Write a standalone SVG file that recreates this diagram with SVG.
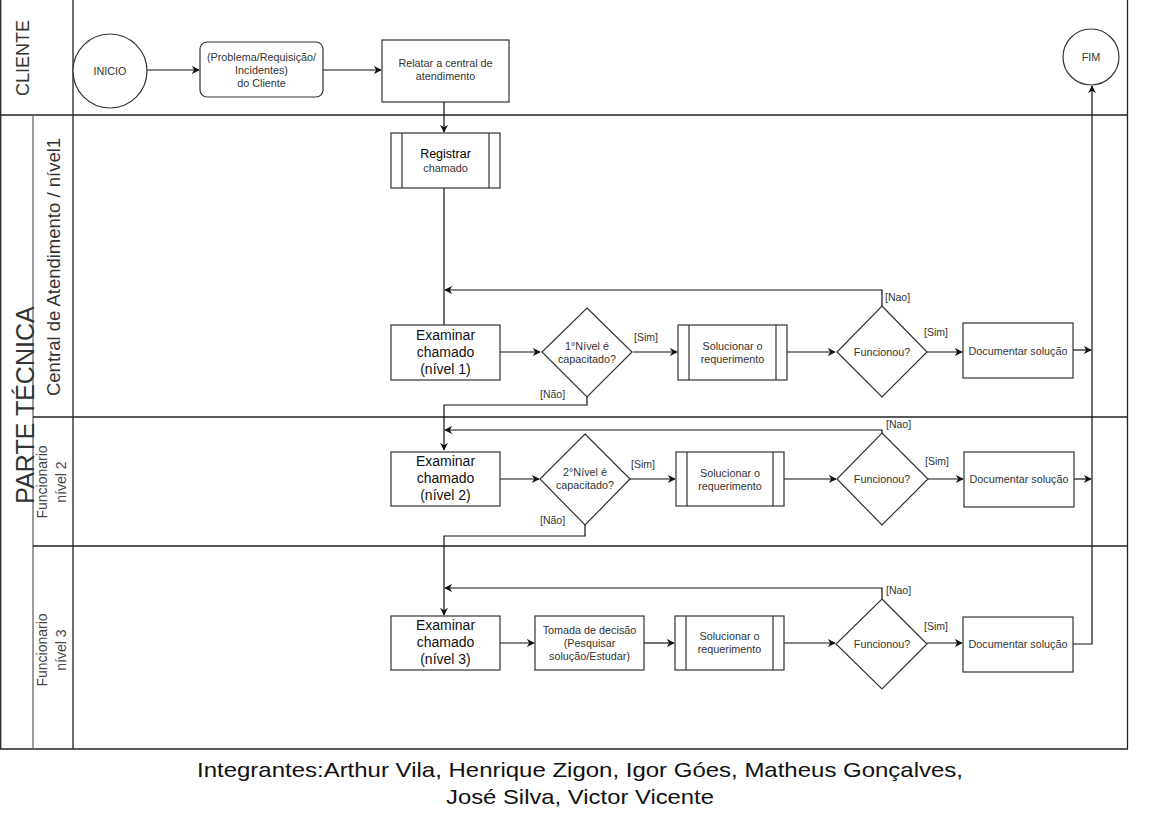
<svg xmlns="http://www.w3.org/2000/svg" width="1156" height="819" viewBox="0 0 1156 819">
<style>
text{font-family:"Liberation Sans",Arial,sans-serif;fill:#222}
.s{font-size:10.8px;text-anchor:middle;fill:#333}
.m{font-size:14px;text-anchor:middle;fill:#111}
.lbl{font-size:10.5px;fill:#333}
.box{fill:#fff;stroke:#333;stroke-width:1.2}
.lane{stroke:#222;stroke-width:1.3;fill:none}
.lane2{stroke:#666;stroke-width:1.3;fill:none}
.c{stroke:#111;stroke-width:1.2;fill:none}
.ca{stroke:#111;stroke-width:1.2;fill:none;marker-end:url(#ah)}
.hd{font-size:18px;fill:#333;text-anchor:middle}
.hs{font-size:14px;fill:#444;text-anchor:middle}
</style>
<defs>
<marker id="ah" viewBox="0 0 10 10" refX="9" refY="5" markerWidth="8" markerHeight="8" markerUnits="userSpaceOnUse" orient="auto">
<path d="M0,0 L10,5 L0,10 L3,5 Z" fill="#111"/>
</marker>
</defs>
<rect width="1156" height="819" fill="#fff"/>

<g id="lanes">
<line class="lane" x1="0.7" y1="0" x2="0.7" y2="749"/>
<line class="lane" x1="1127.5" y1="0" x2="1127.5" y2="749"/>
<line class="lane" x1="0" y1="749" x2="1128" y2="749"/>
<line class="lane" x1="73" y1="0" x2="73" y2="749"/>
<line class="lane" x1="0" y1="115" x2="1128" y2="115"/>
<line class="lane2" x1="33" y1="115" x2="33" y2="749"/>
<line class="lane" x1="33" y1="417" x2="1128" y2="417"/>
<line class="lane" x1="33" y1="546" x2="1128" y2="546"/>
<text class="hd" transform="translate(29,58) rotate(-90)">CLIENTE</text>
<text class="hd" transform="translate(34,405) rotate(-90)" style="font-size:25px">PARTE TÉCNICA</text>
<text class="hd" transform="translate(60,267) rotate(-90)" style="font-size:18.5px">Central de Atendimento / nível1</text>
<text class="hs" transform="translate(47,482) rotate(-90)">Funcionario</text>
<text class="hs" transform="translate(66,482) rotate(-90)">nível 2</text>
<text class="hs" transform="translate(47,650) rotate(-90)">Funcionario</text>
<text class="hs" transform="translate(66,650) rotate(-90)">nível 3</text>
</g>

<g id="connectors">
<line class="ca" x1="147" y1="70" x2="199" y2="70"/>
<line class="ca" x1="323" y1="70" x2="381" y2="70"/>
<line class="ca" x1="444" y1="102" x2="444" y2="132"/>
<line class="c" x1="444" y1="188" x2="444" y2="325"/>
<line class="ca" x1="500" y1="352" x2="540" y2="352"/>
<line class="ca" x1="633" y1="352" x2="677" y2="352"/>
<line class="ca" x1="787" y1="352" x2="835" y2="352"/>
<line class="ca" x1="927" y1="352" x2="962" y2="352"/>
<line class="ca" x1="1073" y1="350" x2="1091" y2="350"/>
<polyline class="ca" points="882,306 882,290 445,290"/>
<polyline class="ca" points="587,397 587,405 444,405 444,450"/>
<line class="ca" x1="500" y1="479" x2="539" y2="479"/>
<line class="ca" x1="630" y1="479" x2="675" y2="479"/>
<line class="ca" x1="784" y1="479" x2="836" y2="479"/>
<line class="ca" x1="928" y1="479" x2="963" y2="479"/>
<line class="ca" x1="1074" y1="479" x2="1091" y2="479"/>
<polyline class="ca" points="882,433 882,430 445,430"/>
<polyline class="ca" points="585,525 585,536 444,536 444,615"/>
<polyline class="ca" points="882,599 882,588 445,588"/>
<line class="ca" x1="500" y1="643" x2="534" y2="643"/>
<line class="ca" x1="644" y1="643" x2="674" y2="643"/>
<line class="ca" x1="784" y1="643" x2="835" y2="643"/>
<line class="ca" x1="927" y1="643" x2="962" y2="643"/>
<polyline class="ca" points="1073,644 1092,644 1092,86"/>
<text class="lbl" x="634" y="341">[Sim]</text>
<text class="lbl" x="924" y="336">[Sim]</text>
<text class="lbl" x="885" y="301">[Nao]</text>
<text class="lbl" x="540" y="398">[Não]</text>
<text class="lbl" x="631" y="468">[Sim]</text>
<text class="lbl" x="925" y="465">[Sim]</text>
<text class="lbl" x="886" y="428">[Nao]</text>
<text class="lbl" x="540" y="524">[Não]</text>
<text class="lbl" x="924" y="630">[Sim]</text>
<text class="lbl" x="886" y="594">[Nao]</text>
</g>

<g id="inicio">
<circle class="box" cx="110" cy="71" r="37"/>
<text class="s" x="110" y="75">INICIO</text>
</g>
<g id="problema">
<rect class="box" x="200" y="42" width="123" height="55" rx="7"/>
<text class="s" x="261.5" y="61">(Problema/Requisição/</text>
<text class="s" x="261.5" y="74">Incidentes)</text>
<text class="s" x="261.5" y="87">do Cliente</text>
</g>
<g id="relatar">
<rect class="box" x="382" y="40" width="127" height="62"/>
<text class="s" x="445.5" y="67">Relatar a central de</text>
<text class="s" x="445.5" y="80">atendimento</text>
</g>
<g id="fim">
<circle class="box" cx="1091" cy="57" r="28"/>
<text class="s" x="1091" y="61">FIM</text>
</g>
<g id="registrar">
<rect class="box" x="391" y="133" width="109" height="55"/>
<line class="box" x1="402" y1="133" x2="402" y2="188"/>
<line class="box" x1="489" y1="133" x2="489" y2="188"/>
<text x="445.5" y="158" style="font-size:12.5px;text-anchor:middle;fill:#000">Registrar</text>
<text class="s" x="445.5" y="172">chamado</text>
</g>

<g id="examinar1">
<rect class="box" x="391" y="325" width="109" height="55"/>
<text class="m" x="445.5" y="340">Examinar</text>
<text class="m" x="445.5" y="357">chamado</text>
<text class="m" x="445.5" y="374">(nível 1)</text>
</g>
<g id="decisao1">
<polygon class="box" points="587,308 632,352 587,397 542,352"/>
<text class="s" x="587" y="350">1°Nível é</text>
<text class="s" x="587" y="363">capacitado?</text>
</g>
<g id="solucionar1">
<rect class="box" x="678" y="325" width="109" height="55"/>
<line class="box" x1="689" y1="325" x2="689" y2="380"/>
<line class="box" x1="776" y1="325" x2="776" y2="380"/>
<text class="s" x="732.5" y="350">Solucionar o</text>
<text class="s" x="732.5" y="363">requerimento</text>
</g>
<g id="funcionou1">
<polygon class="box" points="882,306 927,352 882,397 837,352"/>
<text class="s" x="882" y="356">Funcionou?</text>
</g>
<g id="documentar1">
<rect class="box" x="963" y="323" width="110" height="55"/>
<text class="s" x="1018" y="355">Documentar solução</text>
</g>

<g id="examinar2">
<rect class="box" x="391" y="452" width="109" height="54"/>
<text class="m" x="445.5" y="466">Examinar</text>
<text class="m" x="445.5" y="483">chamado</text>
<text class="m" x="445.5" y="500">(nível 2)</text>
</g>
<g id="decisao2">
<polygon class="box" points="585,434 630,479 585,525 540,479"/>
<text class="s" x="585" y="476">2°Nível é</text>
<text class="s" x="585" y="489">capacitado?</text>
</g>
<g id="solucionar2">
<rect class="box" x="676" y="452" width="108" height="54"/>
<line class="box" x1="687" y1="452" x2="687" y2="506"/>
<line class="box" x1="773" y1="452" x2="773" y2="506"/>
<text class="s" x="730" y="477">Solucionar o</text>
<text class="s" x="730" y="490">requerimento</text>
</g>
<g id="funcionou2">
<polygon class="box" points="882,433 928,479 882,525 837,479"/>
<text class="s" x="882" y="483">Funcionou?</text>
</g>
<g id="documentar2">
<rect class="box" x="964" y="452" width="110" height="55"/>
<text class="s" x="1019" y="483">Documentar solução</text>
</g>

<g id="examinar3">
<rect class="box" x="391" y="616" width="109" height="54"/>
<text class="m" x="445.5" y="630">Examinar</text>
<text class="m" x="445.5" y="647">chamado</text>
<text class="m" x="445.5" y="664">(nível 3)</text>
</g>
<g id="tomada">
<rect class="box" x="535" y="616" width="109" height="54"/>
<text class="s" x="589.5" y="634">Tomada de decisão</text>
<text class="s" x="589.5" y="647">(Pesquisar</text>
<text class="s" x="589.5" y="660">solução/Estudar)</text>
</g>
<g id="solucionar3">
<rect class="box" x="675" y="616" width="109" height="54"/>
<line class="box" x1="686" y1="616" x2="686" y2="670"/>
<line class="box" x1="773" y1="616" x2="773" y2="670"/>
<text class="s" x="729.5" y="640">Solucionar o</text>
<text class="s" x="729.5" y="653">requerimento</text>
</g>
<g id="funcionou3">
<polygon class="box" points="882,599 927,644 882,689 836,644"/>
<text class="s" x="882" y="648">Funcionou?</text>
</g>
<g id="documentar3">
<rect class="box" x="963" y="617" width="110" height="55"/>
<text class="s" x="1018" y="648">Documentar solução</text>
</g>

<g id="footer">
<text x="580" y="777" style="font-size:21px;text-anchor:middle;fill:#111" textLength="766" lengthAdjust="spacingAndGlyphs">Integrantes:Arthur Vila, Henrique Zigon, Igor Góes, Matheus Gonçalves,</text>
<text x="580" y="804" style="font-size:21px;text-anchor:middle;fill:#111" textLength="268" lengthAdjust="spacingAndGlyphs">José Silva, Victor Vicente</text>
</g>
</svg>
